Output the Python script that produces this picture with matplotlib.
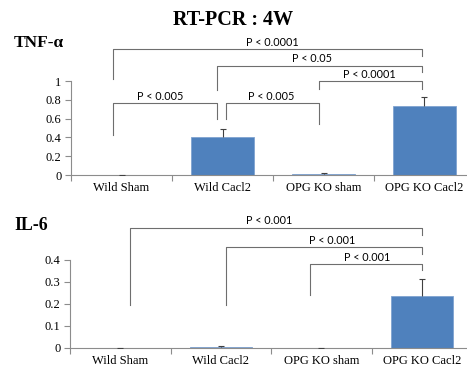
import matplotlib
matplotlib.use('Agg')
import numpy as np
from matplotlib import pyplot as plt

# data
groups = ['Wild Sham', 'Wild Cacl2', 'OPG KO sham', 'OPG KO Cacl2']
tnf_vals = [0.005, 0.404, 0.006, 0.733]
tnf_err = [0.0, 0.083, 0.01, 0.10]
il6_vals = [0.001, 0.006, 0.001, 0.236]
il6_err = [0.0, 0.002, 0.0, 0.078]
tnf_yticks = [0, 0.2, 0.4, 0.6, 0.8, 1]
il6_yticks = [0, 0.1, 0.2, 0.3, 0.4]

# significance brackets: (x_left, y_left_bottom, x_right, y_right_bottom, y_top, label, label_x)
tnf_brackets = [
    (-0.08, 1.024, 2.98, 1.266, 1.337, 'P < 0.0001', 1.49),
    (0.95, 0.904, 2.98, 1.096, 1.163, 'P < 0.05', 1.887),
    (1.96, 0.912, 2.98, 0.912, 1.0, 'P < 0.0001', 2.458),
    (-0.08, 0.426, 0.95, 0.593, 0.763, 'P < 0.005', 0.386),
    (1.03, 0.593, 1.96, 0.539, 0.763, 'P < 0.005', 1.478),
]
il6_brackets = [
    (0.10, 0.195, 3.0, 0.514, 0.547, 'P < 0.001', 1.48),
    (1.05, 0.195, 3.0, 0.426, 0.458, 'P < 0.001', 2.107),
    (1.89, 0.241, 3.0, 0.355, 0.380, 'P < 0.001', 2.452),
]

BAR_COLOR = '#4f81bd'
AXIS_COLOR = '#8c8c8c'
LINE_COLOR = '#6e6e6e'
ERR_COLOR = '#404040'
SERIF = 'Liberation Serif'
SANS = 'Lato'


def draw_panel(ax, vals, err, yticks, ymax, brackets, label_dy):
    x = np.arange(len(groups))
    vals = np.array(vals)
    err = np.array(err)
    ax.bar(x, vals, width=0.62, color=BAR_COLOR, edgecolor='#7fa3d0', linewidth=0.6, zorder=2)
    # Excel style "plus" error bars: only a line upward with a cap on top
    ax.vlines(x, vals, vals + err, color=ERR_COLOR, linewidth=0.8, zorder=3)
    ax.scatter(x, vals + err, marker='_', s=16, color=ERR_COLOR, linewidths=0.8, zorder=3)

    ax.set_xlim(-0.5, 3.5)
    ax.set_ylim(0, ymax)
    ax.set_yticks(yticks)
    ax.set_yticklabels([f'{t:g}' for t in yticks], fontfamily=SERIF, fontsize=9)
    # category labels in the middle, tick marks between categories
    ax.set_xticks(x)
    ax.set_xticklabels(groups, fontfamily=SERIF, fontsize=9)
    ax.set_xticks(np.arange(-0.5, 4.0, 1.0), minor=True)
    ax.tick_params(axis='x', which='major', length=0, pad=5)
    ax.tick_params(axis='x', which='minor', length=4, color=AXIS_COLOR, width=0.8)
    ax.tick_params(axis='y', length=4, color=AXIS_COLOR, width=0.8, pad=3)

    for side in ['top', 'right']:
        ax.spines[side].set_visible(False)
    for side in ['left', 'bottom']:
        ax.spines[side].set_color(AXIS_COLOR)
        ax.spines[side].set_linewidth(0.8)

    # brackets go above the plot area, so no clipping
    for xl, yl, xr, yr, yt, txt, tx in brackets:
        ax.plot([xl, xl, xr, xr], [yl, yt, yt, yr], color=LINE_COLOR,
                linewidth=0.8, clip_on=False, zorder=4)
        ax.text(tx, yt + label_dy, txt, ha='center', va='bottom',
                fontfamily=SANS, fontsize=7.8, clip_on=False)


fig = plt.figure(figsize=(4.67, 3.71), dpi=100)

ax1 = fig.add_axes([71 / 467, 196 / 371, 404 / 467, 94 / 371])
draw_panel(ax1, tnf_vals, tnf_err, tnf_yticks, 1.0, tnf_brackets, 0.015)

ax2 = fig.add_axes([70 / 467, 23 / 371, 402 / 467, 88 / 371])
draw_panel(ax2, il6_vals, il6_err, il6_yticks, 0.4, il6_brackets, 0.007)

fig.text(233 / 467, 1 - 20 / 371, 'RT-PCR : 4W', ha='center', va='center',
         fontfamily=SERIF, fontweight='bold', fontsize=14.5)
fig.text(14 / 467, 1 - 43 / 371, 'TNF-α', ha='left', va='center',
         fontfamily=SERIF, fontweight='bold', fontsize=12.5)
fig.text(14 / 467, 1 - 226 / 371, 'IL-6', ha='left', va='center',
         fontfamily=SERIF, fontweight='bold', fontsize=12.8)

fig.savefig('out.png', dpi=100)
